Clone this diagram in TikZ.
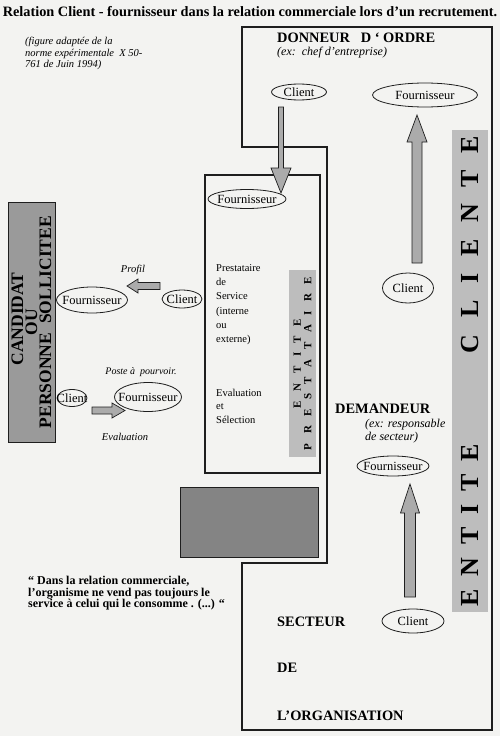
\documentclass[tikz,border=0pt]{standalone}
\usepackage{fontspec}
\setmainfont{Liberation Serif}
\usepackage{tikz}
\usetikzlibrary{arrows.meta,positioning,calc,shapes.geometric}
\definecolor{paper}{HTML}{F3F3F1}
\definecolor{ink}{HTML}{1E1E1E}
\definecolor{barmid}{HTML}{9A9A9A}
\definecolor{barlight}{HTML}{BDBDBD}
\definecolor{bardark}{HTML}{848484}
\definecolor{shaft}{HTML}{ABABAB}
\newcommand{\lbl}[1]{\makebox[0pt]{#1}}
\newcommand{\lsp}{\hspace{12.7pt}}
\newcommand{\lspb}{\hspace{16.8pt}}
\newcommand{\psp}{\hspace{9.5pt}}

\begin{document}
\begin{tikzpicture}[x=1pt,y=-1pt,
  role/.style={ellipse,draw=ink,line width=0.8pt,inner sep=0pt,font=\fontsize{12.5}{13}\selectfont},
  heading/.style={anchor=west,inner sep=0pt,font=\fontsize{14.4}{16}\selectfont\bfseries},
  remark/.style={inner sep=0pt,font=\fontsize{10.5}{12.5}\selectfont\itshape},
  frame/.style={draw=ink,line width=1.6pt},
  fat/.style n args={3}{draw=ink,line width=0.7pt,fill=shaft,line join=miter,
    to path={-- ($(\tikztostart)!#1!90:(\tikztotarget)$)
      -- ($(\tikztotarget)!#3!(\tikztostart)!#1!90:(\tikztotarget)$)
      -- ($(\tikztotarget)!#3!(\tikztostart)!#2!90:(\tikztotarget)$)
      -- (\tikztotarget)
      -- ($(\tikztotarget)!#3!(\tikztostart)!#2!-90:(\tikztotarget)$)
      -- ($(\tikztotarget)!#3!(\tikztostart)!#1!-90:(\tikztotarget)$)
      -- ($(\tikztostart)!#1!-90:(\tikztotarget)$) -- cycle}}]
\useasboundingbox (0,0) rectangle (500,736);
\fill[paper] (0,0) rectangle (500,736);

\node[font=\fontsize{14.3}{16}\selectfont\bfseries,inner sep=0pt] (title) at (250,12) {Relation Client - fournisseur dans la relation commerciale lors d’un recrutement.};
\node[anchor=north west,align=left,inner sep=0pt,font=\fontsize{10.5}{11.6}\selectfont\itshape] (source) at (25,37) {(figure adaptée de la\\norme expérimentale\ \ X 50-\\761 de Juin 1994)};

\node[fill=barlight,rotate=90,minimum width=482pt,minimum height=36pt,inner sep=0pt,font=\fontsize{26}{26}\selectfont\bfseries] (cliente) at (470,371) {E\lsp N\lsp T\lsp I\lsp T\lsp E\hspace{91pt}C\lspb L\lspb I\lspb E\lspb N\lspb T\lspb E};
\node[fill=bardark,draw=ink,line width=1pt,minimum width=138pt,minimum height=70pt,inner sep=0pt] (block) at (249,522) {};
\draw[frame] (242,27) -- (492,27) -- (492,730) -- (242,730) -- (242,563) -- (327,563) -- (327,147) -- (242,147) -- cycle;
\draw[frame] (205,175) rectangle (320,473);
\node[fill=barlight,rotate=90,minimum width=187pt,minimum height=27pt,inner sep=0pt,align=center,font=\fontsize{11}{10.5}\selectfont\bfseries] (prestataire) at (302.5,363.5) {E\psp N\psp T\psp I\psp T\psp E\\P\psp R\psp E\psp S\psp T\psp A\psp T\psp A\psp I\psp R\psp E};
\node[draw=ink,line width=1pt,fill=barmid,rotate=90,minimum width=240pt,minimum height=47pt,inner sep=0pt,align=center,font=\fontsize{17.5}{14}\selectfont\bfseries] (candidat) at (31.5,322) {\hspace*{6pt}CANDIDAT\\OU\\PERSONNE\ \ SOLLICITEE};

\node[heading] (donneur) at (277,38) {DONNEUR\ \ \ D ‘ ORDRE};
\node[remark,anchor=west,font=\fontsize{12}{13}\selectfont\itshape] (donneurex) at (277,53) {(ex:\ \ chef d'entreprise)};
\node[role,minimum width=55pt,minimum height=16pt] (clienttop) at (299,92) {\lbl{Client}};
\node[role,minimum width=105pt,minimum height=24pt] (fourntop) at (425,95) {\lbl{Fournisseur}};
\node[role,minimum width=78pt,minimum height=19pt] (fournprest) at (247,199) {\lbl{Fournisseur}};
\node[anchor=north west,align=left,inner sep=0pt,font=\fontsize{10.5}{14.3}\selectfont] (service) at (216,264) {Prestataire\\de\\Service\\(interne\\ou\\externe)};
\node[anchor=north west,align=left,inner sep=0pt,font=\fontsize{10.5}{13.5}\selectfont] (selection) at (216,389) {Evaluation\\et\\Sélection};
\node[role,minimum width=51pt,minimum height=30pt] (clientmid) at (408,288) {\lbl{Client}};
\node[heading] (demandeur) at (335,409) {DEMANDEUR};
\node[remark,anchor=north west,align=left,font=\fontsize{12}{12.5}\selectfont\itshape] (demandeurex) at (365,419) {(ex: responsable\\de secteur)};
\node[role,minimum width=72pt,minimum height=20pt] (fourndem) at (393,466) {\lbl{Fournisseur}};
\node[role,minimum width=62pt,minimum height=24pt] (clientbot) at (413,621) {\lbl{Client}};
\node[heading] (secteur) at (277,622) {SECTEUR};
\node[heading] (de) at (277,668) {DE};
\node[heading] (organisation) at (277,716) {L’ORGANISATION};

\node[remark] (profil) at (133,270) {Profil};
\node[role,minimum width=71pt,minimum height=26pt] (fournleft) at (92,300) {\lbl{Fournisseur}};
\node[role,minimum width=40pt,minimum height=18pt] (clientleft) at (182,299) {\lbl{Client}};
\node[remark,font=\fontsize{10}{12}\selectfont\itshape] (poste) at (141,372) {Poste à\ \ pourvoir.};
\node[role,minimum width=30pt,minimum height=17pt] (clientlow) at (72,398) {\lbl{Client}};
\node[role,minimum width=67pt,minimum height=29pt] (fournlow) at (148,397) {\lbl{Fournisseur}};
\node[remark] (evaluation) at (125,437) {Evaluation};

\node[anchor=north west,align=left,inner sep=0pt,font=\fontsize{12}{11.6}\selectfont\bfseries] (quote) at (28,576) {“ Dans la relation commerciale,\\l’organisme ne vend pas toujours le\\service à celui qui le consomme . (...) “};

\coordinate (profA) at (160,286);
\coordinate (profB) at (127,286);
\coordinate (evalA) at (92,410.5);
\coordinate (evalB) at (125,410.5);
\coordinate (downA) at (281,107);
\coordinate (downB) at (281,193);
\coordinate (upA) at (417,263);
\coordinate (upB) at (417,115);
\coordinate (riseA) at (410,597);
\coordinate (riseB) at (410,484);
\draw[fat={3.5pt}{7pt}{11pt}] (profA) to (profB);
\draw[fat={3.5pt}{7.5pt}{13pt}] (evalA) to (evalB);
\draw[fat={2.5pt}{10pt}{25pt}] (downA) to (downB);
\draw[fat={5pt}{10pt}{27pt}] (upA) to (upB);
\draw[fat={5.5pt}{9.5pt}{29pt}] (riseA) to (riseB);
\end{tikzpicture}
\end{document}
